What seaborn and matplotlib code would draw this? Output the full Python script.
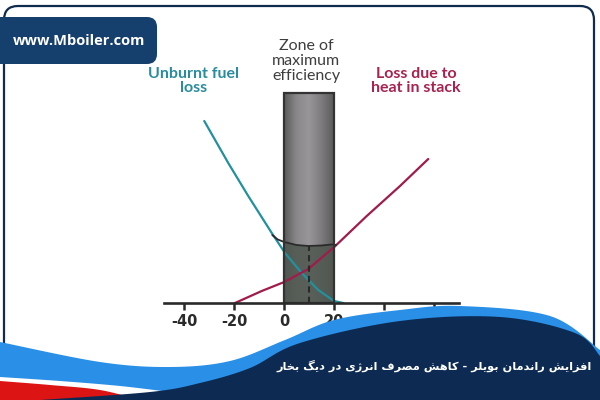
import numpy as np
import pandas as pd
import seaborn as sns
import matplotlib.pyplot as plt
from matplotlib.patches import Rectangle, FancyBboxPatch, Polygon
from matplotlib.colors import LinearSegmentedColormap

sns.set_theme(style="white")
plt.rcParams['font.family'] = ['DejaVu Sans']

# excess air (%) vs loss
unburnt_x = [-31.9, -22.3, -14.3, -4.9, 0.4, 7.1, 13.7, 20.0, 23.7]
unburnt_y = [18.2, 14.0, 10.7, 7.0, 5.0, 3.0, 1.3, 0.2, 0.0]
stack_x = [-19.6, -8.9, 0.1, 9.7, 20.1, 33.1, 46.4, 57.7]
stack_y = [0.0, 1.2, 2.1, 3.4, 5.6, 8.7, 11.7, 14.4]
total_x = [-4.7, -2.5, 0.1, 5.0, 9.7, 15.0, 19.0, 20.8]
total_y = [6.8, 6.35, 6.1, 5.8, 5.7, 5.75, 5.85, 5.8]
zone = (0, 20)
zone_top = 21.0
optimum = 10
ticks = [-40, -20, 0, 20, 40, 60]

title_fa = "افزایش راندمان بویلر - کاهش مصرف انرژی در دیگ بخار"
site = "www.Mboiler.com"

FORMS = {
    'ا': ('\uFE8D', '\uFE8E'), 'د': ('\uFEA9', '\uFEAA'), 'ر': ('\uFEAD', '\uFEAE'),
    'ز': ('\uFEAF', '\uFEB0'), 'ژ': ('\uFB8A', '\uFB8B'), 'و': ('\uFEED', '\uFEEE'),
    'ب': ('\uFE8F', '\uFE90', '\uFE91', '\uFE92'), 'خ': ('\uFEA5', '\uFEA6', '\uFEA7', '\uFEA8'),
    'ش': ('\uFEB5', '\uFEB6', '\uFEB7', '\uFEB8'), 'ص': ('\uFEB9', '\uFEBA', '\uFEBB', '\uFEBC'),
    'ف': ('\uFED1', '\uFED2', '\uFED3', '\uFED4'), 'ک': ('\uFB8E', '\uFB8F', '\uFB90', '\uFB91'),
    'گ': ('\uFB92', '\uFB93', '\uFB94', '\uFB95'), 'ل': ('\uFEDD', '\uFEDE', '\uFEDF', '\uFEE0'),
    'م': ('\uFEE1', '\uFEE2', '\uFEE3', '\uFEE4'), 'ن': ('\uFEE5', '\uFEE6', '\uFEE7', '\uFEE8'),
    'ه': ('\uFEE9', '\uFEEA', '\uFEEB', '\uFEEC'), 'ی': ('\uFBFC', '\uFBFD', '\uFBFE', '\uFBFF'),
}


def shape_fa(text):
    # matplotlib has no arabic shaping, pick the joined forms by hand
    out = []
    for i, c in enumerate(text):
        f = FORMS.get(c)
        if f is None:
            out.append(c)
            continue
        prev = text[i - 1] if i > 0 else ''
        nxt = text[i + 1] if i + 1 < len(text) else ''
        jp = prev in FORMS and len(FORMS[prev]) == 4
        jn = len(f) == 4 and nxt in FORMS
        out.append(f[3] if jp and jn else f[1] if jp else f[2] if jn else f[0])
    return ''.join(reversed(out))


def smooth(pts, n=20):
    # catmull-rom through a few guide points (decoration only)
    p = np.array(pts, float)
    p = np.vstack([p[0], p, p[-1]])
    res = []
    for i in range(1, len(p) - 2):
        t = np.linspace(0, 1, n)[:, None]
        a, b, c, d = p[i - 1], p[i], p[i + 1], p[i + 2]
        res.append(0.5 * ((2 * b) + (-a + c) * t + (2 * a - 5 * b + 4 * c - d) * t ** 2
                          + (-a + 3 * b - 3 * c + d) * t ** 3))
    return np.vstack(res)


fig = plt.figure(figsize=(6, 4), dpi=100)
fig.patch.set_facecolor('white')

ax = fig.add_axes([0, 0, 1, 1])
ax.set_facecolor('none')
ax.set_xlim(-113.6, 126.4)
ax.set_ylim(-9.7, 30.3)

# zone of maximum efficiency
box = Rectangle((zone[0], 0), zone[1] - zone[0], zone_top, fill=False,
                edgecolor='#333333', lw=1.6, zorder=4)
ax.add_patch(box)
cmap = LinearSegmentedColormap.from_list('cyl', ['#5c5c5c', '#8a888a', '#989698', '#7e7c7e', '#5c5c5c'])
img = ax.imshow(np.linspace(0, 1, 60)[None, :], cmap=cmap, aspect='auto',
                extent=(zone[0], zone[1], 0, zone_top), zorder=1)
img.set_clip_path(box)
under = ax.fill_between(total_x, 0, total_y, color='#4e574f', alpha=0.85, lw=0, zorder=1.5)
under.set_clip_path(box)

sns.lineplot(x=unburnt_x, y=unburnt_y, color='#23909e', lw=1.6, ax=ax, zorder=3)
sns.lineplot(x=stack_x, y=stack_y, color='#a11b4b', lw=1.6, ax=ax, zorder=3)
sns.lineplot(x=total_x, y=total_y, color='#2a2a2a', lw=1.3, ax=ax, zorder=3)
ax.plot([optimum, optimum], [0, min(total_y)], color='#2a2a2a', lw=1.5, ls=(0, (3, 2)), zorder=3)

for s in ['left', 'right', 'top']:
    ax.spines[s].set_visible(False)
ax.spines['bottom'].set_position(('data', 0))
ax.spines['bottom'].set_bounds(-48, 70)
ax.spines['bottom'].set_linewidth(1.9)
ax.spines['bottom'].set_color('#2a2a2a')
ax.spines['bottom'].set_zorder(5)
ax.set_xticks(ticks)
ax.set_xticklabels([str(t) for t in ticks])
ax.set_yticks([])
ax.tick_params(axis='x', direction='out', length=5, width=1.8, color='#2a2a2a',
               pad=3, labelsize=10.5, labelcolor='#2a2a2a', bottom=True)
for lab in ax.get_xticklabels():
    lab.set_fontweight('bold')
ax.grid(False)

# overlay in pixel coordinates for labels and page decoration
ov = fig.add_axes([0, 0, 1, 1], zorder=10)
ov.set_xlim(0, 600)
ov.set_ylim(400, 0)
ov.axis('off')
ov.patch.set_alpha(0)

lab_font = ['Lato', 'DejaVu Sans']
ov.text(194, 81, "Unburnt fuel\nloss", ha='center', va='center', color='#2a8c9c',
        fontsize=11.5, family=lab_font, fontweight='bold', linespacing=1.0)
ov.text(306, 61, "Zone of\nmaximum\nefficiency", ha='center', va='center', color='#3e3e3e',
        fontsize=11.5, family=lab_font, linespacing=1.08)
ov.text(416, 81, "Loss due to\nheat in stack", ha='center', va='center', color='#a8234f',
        fontsize=11.5, family=lab_font, fontweight='bold', linespacing=1.0)

ov.add_patch(FancyBboxPatch((4, 6), 590, 388, boxstyle='round,pad=0,rounding_size=14',
                            fill=False, edgecolor='#0f2c4c', lw=1.6, zorder=1))
ov.add_patch(FancyBboxPatch((-20, 17), 177, 47, boxstyle='round,pad=0,rounding_size=10',
                            facecolor='#153f6c', edgecolor='none', zorder=3))
ov.text(79, 41, site, ha='center', va='center', color='white', fontsize=10.5,
        family=['Open Sans', 'DejaVu Sans'], fontweight='bold', zorder=4)

blue_top = smooth([(0, 342), (100, 362), (170, 367), (230, 361), (285, 340), (334, 320),
                   (400, 310), (460, 306), (550, 316), (600, 350)])
ov.add_patch(Polygon(np.vstack([blue_top, [(600, 400), (0, 400)]]), closed=True,
                     facecolor='#2a8fe6', edgecolor='none', zorder=5))
white_top = smooth([(0, 377), (60, 381), (120, 386), (170, 392)])
ov.add_patch(Polygon(np.vstack([white_top, [(170, 400), (0, 400)]]), closed=True,
                     facecolor='white', edgecolor='none', zorder=6))
red_top = smooth([(0, 381), (50, 385), (100, 390), (140, 400)])
ov.add_patch(Polygon(np.vstack([red_top, [(0, 400)]]), closed=True,
                     facecolor='#dc1414', edgecolor='none', zorder=7))
navy_top = smooth([(40, 400), (150, 392), (200, 383), (250, 368), (300, 343), (400, 321),
                   (500, 317), (575, 333), (600, 356)])
ov.add_patch(Polygon(np.vstack([navy_top, [(600, 400)]]), closed=True,
                     facecolor='#0c2a52', edgecolor='none', zorder=8))

ov.text(592, 366, shape_fa(title_fa), ha='right', va='center', color='white',
        fontsize=8.2, fontweight='bold', family=['DejaVu Sans', 'Noto Sans'], zorder=9)

fig.savefig('out.png', dpi=100)
